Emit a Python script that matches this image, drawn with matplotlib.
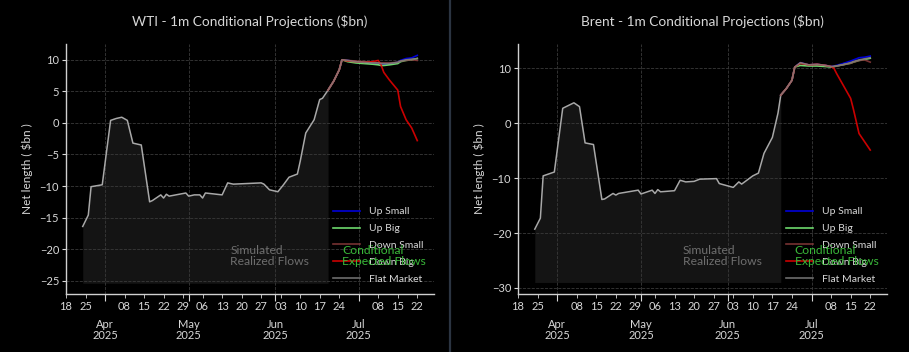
import numpy as np
import pandas as pd
import matplotlib
matplotlib.use('Agg')
import matplotlib.pyplot as plt
import matplotlib.dates as mdates
from matplotlib.lines import Line2D

plt.rcParams['font.family'] = ['Lato', 'DejaVu Sans']

# realized (simulated) flows, $bn
wti_real_dates = ['2025-03-24', '2025-03-26', '2025-03-27', '2025-03-31', '2025-04-03', '2025-04-05',
                  '2025-04-07', '2025-04-09', '2025-04-11', '2025-04-14', '2025-04-17', '2025-04-18',
                  '2025-04-21', '2025-04-22', '2025-04-23', '2025-04-24', '2025-04-30', '2025-05-01',
                  '2025-05-03', '2025-05-05', '2025-05-06', '2025-05-07', '2025-05-13', '2025-05-15',
                  '2025-05-17', '2025-05-27', '2025-05-28', '2025-05-30', '2025-06-02', '2025-06-04',
                  '2025-06-06', '2025-06-09', '2025-06-10', '2025-06-12', '2025-06-15', '2025-06-17',
                  '2025-06-18', '2025-06-20']
wti_real_vals = [-16.4, -14.6, -10.1, -9.8, 0.4, 0.7, 0.9, 0.4, -3.2, -3.5, -12.5, -12.3,
                 -11.4, -11.9, -11.3, -11.6, -11.1, -11.6, -11.4, -11.4, -11.9, -11.1, -11.4, -9.5,
                 -9.7, -9.5, -9.7, -10.6, -10.9, -9.8, -8.6, -8.1, -6.1, -1.6, 0.5, 3.7,
                 3.9, 5.2]

brent_real_dates = ['2025-03-24', '2025-03-26', '2025-03-27', '2025-03-31', '2025-04-03', '2025-04-07',
                    '2025-04-09', '2025-04-11', '2025-04-14', '2025-04-17', '2025-04-18', '2025-04-21',
                    '2025-04-22', '2025-04-23', '2025-04-30', '2025-05-01', '2025-05-05', '2025-05-06',
                    '2025-05-07', '2025-05-08', '2025-05-13', '2025-05-15', '2025-05-17', '2025-05-20',
                    '2025-05-22', '2025-05-28', '2025-05-29', '2025-06-03', '2025-06-05', '2025-06-06',
                    '2025-06-10', '2025-06-12', '2025-06-14', '2025-06-17', '2025-06-19', '2025-06-20']
brent_real_vals = [-19.3, -17.3, -9.6, -8.9, 2.7, 3.7, 3.0, -3.6, -3.9, -13.9, -13.8, -12.8,
                   -13.1, -12.8, -12.2, -12.9, -12.2, -12.8, -12.1, -12.5, -12.3, -10.4, -10.7, -10.6,
                   -10.2, -10.1, -11.0, -11.7, -10.7, -11.1, -9.6, -9.1, -5.5, -2.6, 1.8, 5.1]

# 1m conditional projections
proj_dates = ['2025-06-20', '2025-06-22', '2025-06-24', '2025-06-25', '2025-06-27', '2025-06-30',
              '2025-07-03', '2025-07-06', '2025-07-08', '2025-07-09', '2025-07-10', '2025-07-12',
              '2025-07-15', '2025-07-16', '2025-07-18', '2025-07-20', '2025-07-22']

scenarios = ['Up Small', 'Up Big', 'Down Small', 'Down Big', 'Flat Market']

wti_up_small = [5.2, 6.6, 8.4, 10.0, 9.9, 9.7, 9.6, 9.5, 9.4, 9.4, 9.3, 9.4, 9.6, 9.9, 10.2, 10.3, 10.7]
wti_up_big = [5.2, 6.6, 8.4, 10.0, 9.7, 9.5, 9.4, 9.3, 9.2, 9.1, 9.1, 9.2, 9.4, 9.7, 9.9, 10.0, 10.2]
wti_down_small = [5.2, 6.6, 8.4, 10.0, 9.9, 9.8, 9.7, 9.6, 9.5, 9.5, 9.5, 9.5, 9.6, 9.8, 9.9, 10.0, 9.9]
wti_down_big = [5.2, 6.6, 8.4, 10.0, 9.8, 9.7, 9.6, 9.7, 9.9, 9.2, 8.0, 6.8, 5.2, 2.6, 0.5, -0.8, -2.8]
wti_flat = [5.2, 6.6, 8.4, 10.0, 9.9, 9.7, 9.6, 9.5, 9.5, 9.4, 9.4, 9.4, 9.6, 9.8, 10.0, 10.1, 10.2]

brent_up_small = [5.1, 6.3, 7.8, 10.2, 11.0, 10.6, 10.7, 10.5, 10.3, 10.4, 10.5, 10.8, 11.3, 11.5, 11.9, 12.0, 12.2]
brent_up_big = [5.1, 6.3, 7.8, 10.2, 10.5, 10.4, 10.4, 10.3, 10.2, 10.3, 10.4, 10.6, 10.9, 11.1, 11.4, 11.6, 11.8]
brent_down_small = [5.1, 6.3, 7.8, 10.2, 10.9, 10.6, 10.7, 10.5, 10.3, 10.3, 10.4, 10.6, 10.9, 11.1, 11.4, 11.5, 11.1]
brent_down_big = [5.1, 6.3, 7.8, 10.2, 10.9, 10.6, 10.7, 10.5, 10.3, 10.0, 9.0, 7.2, 4.5, 2.5, -1.9, -3.4, -4.9]
brent_flat = [5.1, 6.3, 7.8, 10.2, 11.0, 10.6, 10.7, 10.5, 10.3, 10.3, 10.4, 10.6, 11.0, 11.2, 11.5, 11.7, 11.9]

colors = ['#0000ff', '#80ff80', '#8b3a3a', '#ee0000', '#808080']
TXT = '#d8d8d8'


def draw_panel(ax, title, rdates, rvals, proj, ylim, yticks, base, text_y):
    rd = pd.to_datetime(rdates)
    pd_ = pd.to_datetime(proj_dates)
    ax.set_facecolor('black')
    ax.fill_between(rd, rvals, base, color='#141414', lw=0, zorder=1)
    ax.plot(rd, rvals, color='#a8a8a8', lw=1.1, zorder=3)
    for name, vals, c in zip(scenarios, proj, colors):
        ax.plot(pd_, vals, color=c, lw=1.2, alpha=0.85, label=name, zorder=4)

    ax.set_xlim(pd.Timestamp('2025-03-18'), pd.Timestamp('2025-07-28'))
    ax.set_ylim(*ylim)
    ax.set_yticks(yticks)
    ax.xaxis.set_major_locator(mdates.MonthLocator())
    ax.xaxis.set_major_formatter(mdates.DateFormatter('%b\n%Y'))
    ax.xaxis.set_minor_locator(mdates.WeekdayLocator(byweekday=mdates.TU))
    ax.xaxis.set_minor_formatter(mdates.DateFormatter('%d'))
    ax.tick_params(axis='x', which='major', length=5, pad=13, labelsize=8, colors=TXT)
    ax.tick_params(axis='x', which='minor', length=3, pad=2, labelsize=8, colors=TXT)
    ax.tick_params(axis='y', length=3, pad=2, labelsize=8, colors=TXT)
    for lab in ax.get_xticklabels(which='major'):
        lab.set_linespacing(1.0)

    ax.grid(True, which='major', color='#3a3a3a', ls='--', lw=0.6)
    for s in ['top', 'right']:
        ax.spines[s].set_visible(False)
    for s in ['left', 'bottom']:
        ax.spines[s].set_color('#d0d0d0')
        ax.spines[s].set_linewidth(1.0)

    ax.set_title(title, color=TXT, fontsize=9.8, pad=13)
    ax.set_ylabel('Net length ( \\$bn )', color=TXT, fontsize=8.5, labelpad=5)

    ax.text(pd.Timestamp('2025-05-16'), text_y, 'Simulated\nRealized Flows', color='#6e6e6e',
            fontsize=8.7, ha='left', va='center', linespacing=1.05, zorder=5)
    ax.text(pd.Timestamp('2025-06-25'), text_y, 'Conditional\nExpected Flows', color='#39b839',
            fontsize=8.7, ha='left', va='center', linespacing=1.05, zorder=6)

    leg = ax.legend(loc='lower right', bbox_to_anchor=(1.0, 0.0), frameon=False, fontsize=7.5,
                    handlelength=2.6, labelspacing=0.72, handletextpad=0.9, borderaxespad=0.6)
    for t in leg.get_texts():
        t.set_color(TXT)


fig = plt.figure(figsize=(9.09, 3.52), dpi=100, facecolor='black')
ax1 = fig.add_axes([66 / 909, 58 / 352, 368 / 909, 250 / 352])
ax2 = fig.add_axes([518 / 909, 58 / 352, 369 / 909, 250 / 352])

draw_panel(ax1, 'WTI - 1m Conditional Projections (\\$bn)', wti_real_dates, wti_real_vals,
           [wti_up_small, wti_up_big, wti_down_small, wti_down_big, wti_flat],
           (-27.1, 12.5), [10, 5, 0, -5, -10, -15, -20, -25], -25.4, -21.1)
draw_panel(ax2, 'Brent - 1m Conditional Projections (\\$bn)', brent_real_dates, brent_real_vals,
           [brent_up_small, brent_up_big, brent_down_small, brent_down_big, brent_flat],
           (-31.1, 14.4), [10, 0, -10, -20, -30], -29.0, -24.2)

fig.add_artist(Line2D([450 / 909, 450 / 909], [0, 1], color='#2b3441', lw=1.6))

fig.savefig('out.png', dpi=100, facecolor='black')
